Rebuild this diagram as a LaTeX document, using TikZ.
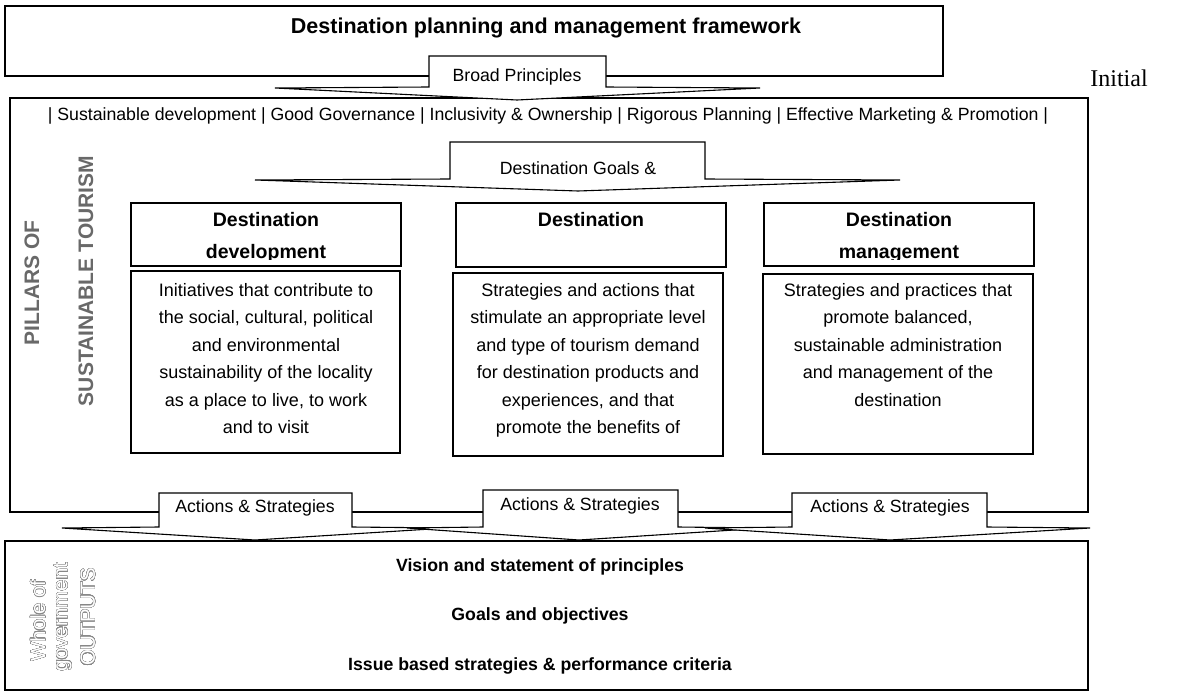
\documentclass[tikz,border=0pt]{standalone}
\usepackage{fontspec}
\setmainfont{Liberation Sans}
\newfontfamily\timesfont{Liberation Serif}
\usepackage{contour}
\contourlength{0.32pt}
\contournumber{32}

\definecolor{pillargray}{RGB}{105,105,105}
\definecolor{outlinegray}{RGB}{135,135,135}

\tikzset{
  box/.style={draw, line width=1.3pt},
  tab/.style={draw, line width=1.1pt, fill=white},
  titletext/.style={font=\bfseries\fontsize{21.5}{25}\selectfont, inner sep=0pt},
  smalltext/.style={font=\fontsize{17.7}{21}\selectfont, inner sep=0pt},
  headtext/.style={font=\bfseries\fontsize{19.5}{32}\selectfont, align=center, anchor=north, inner sep=0pt},
  bodytext/.style={font=\fontsize{18}{27.5}\selectfont, align=center, anchor=north, inner sep=0pt},
  pillarlabel/.style={font=\bfseries\fontsize{21}{24}\selectfont, text=pillargray, rotate=90, inner sep=0pt},
  outputlabel/.style={font=\fontsize{20.5}{24}\selectfont, text=white, rotate=90, inner sep=0pt},
  outputtext/.style={font=\bfseries\fontsize{17.7}{21}\selectfont, inner sep=0pt}
}

\begin{document}
\begin{tikzpicture}[x=1pt, y=-1pt]
  \useasboundingbox (0,0) rectangle (1201,695);

  % framework box on top
  \draw[box] (5,6) rectangle (943,76);
  \node[titletext] (framework) at (546,28) {Destination planning and management framework};
  \node[font=\timesfont\fontsize{24}{28}\selectfont, inner sep=0pt] (initial) at (1119,78) {Initial};

  % pillars box
  \draw[box] (10,98) rectangle (1088,512);
  \node[smalltext] (principles) at (548,116) {| Sustainable development | Good Governance | Inclusivity \& Ownership | Rigorous Planning | Effective Marketing \& Promotion |};

  % broad principles arrow
  \draw[tab] (275,88) -- (429,87) -- (429,56) -- (606,56) -- (606,87) -- (760,88) -- (517,100) -- cycle;
  \begin{scope}
    \clip (429,56) rectangle (606,85);
    \node[smalltext] (broad) at (517,77) {Broad Principles};
  \end{scope}

  % goals arrow
  \draw[tab] (255,180) -- (450,179) -- (450,142) -- (705,142) -- (705,179) -- (900,180) -- (578,191) -- cycle;
  \begin{scope}
    \clip (450,142) rectangle (705,177);
    \node[smalltext] (goals) at (578,168) {Destination Goals \&};
  \end{scope}

  \node[pillarlabel] (pillars) at (32,283) {PILLARS OF};
  \node[pillarlabel] (tourism) at (86,281) {SUSTAINABLE TOURISM};

  % the three pillars
  \draw[box] (131,203) rectangle (401,266);
  \draw[box] (131,271) rectangle (400,453);
  \begin{scope}
    \clip (131,203) rectangle (401,259);
    \node[headtext] (devhead) at (266,212) {Destination\\development};
  \end{scope}
  \node[bodytext] (devbody) at (266,283) {Initiatives that contribute to\\the social, cultural, political\\and environmental\\sustainability of the locality\\as a place to live, to work\\and to visit};

  \draw[box] (456,203) rectangle (726,267);
  \draw[box] (453,273) rectangle (723,456);
  \node[headtext] (markhead) at (591,212) {Destination};
  \node[bodytext] (markbody) at (588,283) {Strategies and actions that\\stimulate an appropriate level\\and type of tourism demand\\for destination products and\\experiences, and that\\promote the benefits of};

  \draw[box] (764,203) rectangle (1034,266);
  \draw[box] (763,274) rectangle (1033,454);
  \begin{scope}
    \clip (764,203) rectangle (1034,259);
    \node[headtext] (manhead) at (899,212) {Destination\\management};
  \end{scope}
  \node[bodytext] (manbody) at (898,283) {Strategies and practices that\\promote balanced,\\sustainable administration\\and management of the\\destination};

  % actions arrows
  \draw[tab] (62,528) -- (159,527) -- (159,493) -- (352,493) -- (352,527) -- (447,528) -- (255,540) -- cycle;
  \node[smalltext] (act1) at (255,508) {Actions \& Strategies};
  \draw[tab] (407,528) -- (483,527) -- (483,490) -- (678,490) -- (678,527) -- (765,528) -- (579,540) -- cycle;
  \node[smalltext] (act2) at (580,506) {Actions \& Strategies};
  \draw[tab] (705,528) -- (792,527) -- (792,493) -- (987,493) -- (987,527) -- (1090,528) -- (890,540) -- cycle;
  \node[smalltext] (act3) at (890,508) {Actions \& Strategies};

  % outputs box
  \draw[box] (5,541) rectangle (1088,690);
  \node[outputlabel] (whole) at (38,621) {\contour{outlinegray}{Whole of}};
  \node[outputlabel] (govt) at (63,617) {\contour{outlinegray}{government}};
  \node[outputlabel] (outputs) at (88,617) {\contour{outlinegray}{OUTPUTS}};
  \node[outputtext] (vision) at (540,567) {Vision and statement of principles};
  \node[outputtext] (goalsobj) at (540,616) {Goals and objectives};
  \node[outputtext] (issues) at (540,666) {Issue based strategies \& performance criteria};
\end{tikzpicture}
\end{document}
